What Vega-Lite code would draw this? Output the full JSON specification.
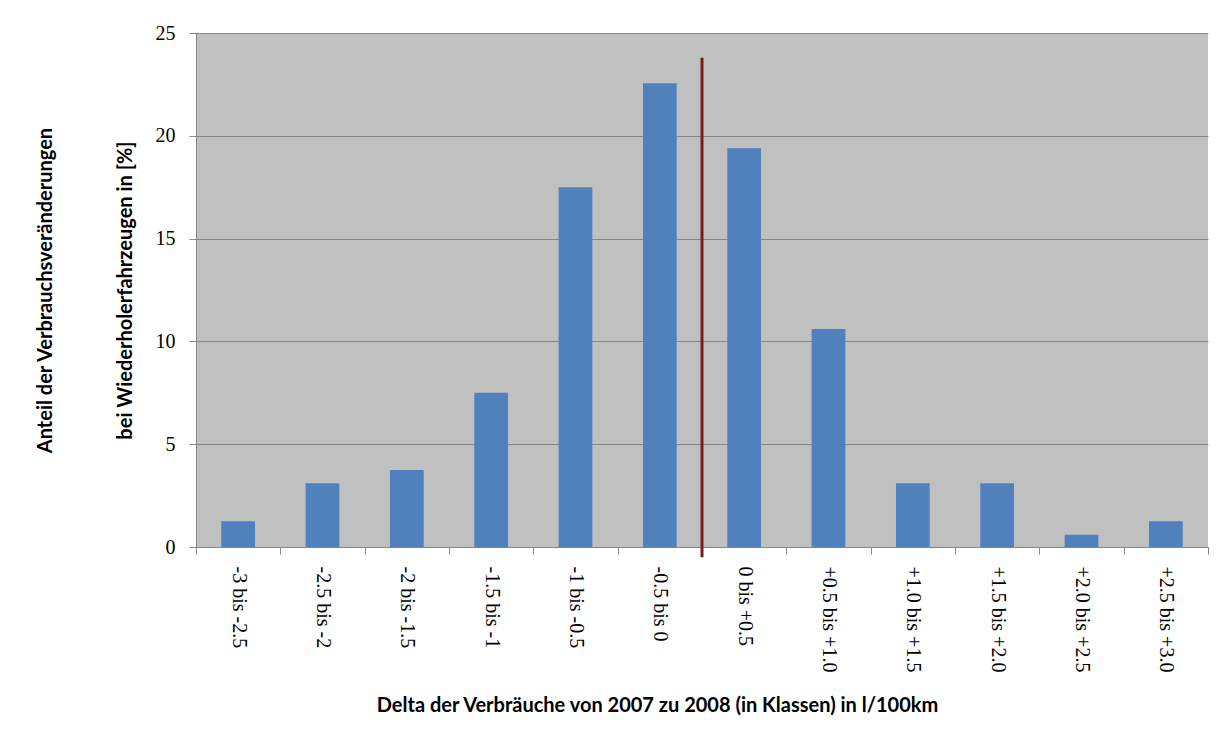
{
  "$schema": "https://vega.github.io/schema/vega-lite/v6.json",
  "width": 1012,
  "height": 514,
  "autosize": {"type": "none"},
  "padding": {"left": 196, "top": 33, "right": 13, "bottom": 190},
  "background": "white",
  "config": {
    "view": {"fill": "#C0C0C0", "stroke": null},
    "axis": {
      "domainColor": "#868686",
      "tickColor": "#868686",
      "gridColor": "#868686",
      "labelFont": "Liberation Serif",
      "labelFontSize": 20,
      "labelColor": "#000000",
      "titleFont": "Lato",
      "titleFontWeight": "bold",
      "titleFontSize": 20,
      "titleColor": "#000000"
    }
  },
  "datasets": {
    "klassen": [
      {"klasse": "-3 bis -2.5", "anteil": 1.25},
      {"klasse": "-2.5 bis -2", "anteil": 3.1},
      {"klasse": "-2 bis -1.5", "anteil": 3.75},
      {"klasse": "-1.5 bis -1", "anteil": 7.5},
      {"klasse": "-1 bis -0.5", "anteil": 17.5},
      {"klasse": "-0.5 bis 0", "anteil": 22.55},
      {"klasse": "0 bis +0.5", "anteil": 19.4},
      {"klasse": "+0.5 bis +1.0", "anteil": 10.6},
      {"klasse": "+1.0 bis +1.5", "anteil": 3.1},
      {"klasse": "+1.5 bis +2.0", "anteil": 3.1},
      {"klasse": "+2.0 bis +2.5", "anteil": 0.6},
      {"klasse": "+2.5 bis +3.0", "anteil": 1.25}
    ],
    "nulllinie": [
      {"klasse": "0 bis +0.5", "von": -0.5, "bis": 23.8}
    ]
  },
  "layer": [
    {
      "data": {"name": "klassen"},
      "mark": {"type": "bar", "color": "#4F81BD", "width": {"band": 0.4}},
      "encoding": {
        "x": {
          "field": "klasse",
          "type": "nominal",
          "scale": {
            "domain": ["-3 bis -2.5", "-2.5 bis -2", "-2 bis -1.5", "-1.5 bis -1", "-1 bis -0.5", "-0.5 bis 0", "0 bis +0.5", "+0.5 bis +1.0", "+1.0 bis +1.5", "+1.5 bis +2.0", "+2.0 bis +2.5", "+2.5 bis +3.0"],
            "paddingInner": 0,
            "paddingOuter": 0
          },
          "axis": {
            "title": "Delta der Verbräuche von 2007 zu 2008 (in Klassen) in l/100km",
            "labelAngle": 90,
            "labelAlign": "left",
            "labelBaseline": "middle",
            "labelPadding": 12,
            "tickBand": "extent",
            "tickSize": 7,
            "grid": false,
            "titleX": 461,
            "titleY": 158,
            "titleAlign": "center",
            "titleBaseline": "middle"
          }
        },
        "y": {
          "field": "anteil",
          "type": "quantitative",
          "scale": {"domain": [0, 25], "nice": false},
          "axis": {
            "title": ["Anteil der Verbrauchsveränderungen", "bei Wiederholerfahrzeugen in [%]"],
            "values": [0, 5, 10, 15, 20, 25],
            "tickSize": 7,
            "labelPadding": 14,
            "grid": true,
            "titleAngle": -90,
            "titleX": -151,
            "titleY": 257,
            "titleAlign": "center",
            "titleBaseline": "middle",
            "titleLineHeight": 80
          }
        }
      }
    },
    {
      "data": {"name": "nulllinie"},
      "mark": {"type": "rule", "color": "#7A1C1C", "strokeWidth": 3},
      "encoding": {
        "x": {"field": "klasse", "type": "nominal", "bandPosition": 0},
        "y": {"field": "von", "type": "quantitative"},
        "y2": {"field": "bis"}
      }
    }
  ]
}
